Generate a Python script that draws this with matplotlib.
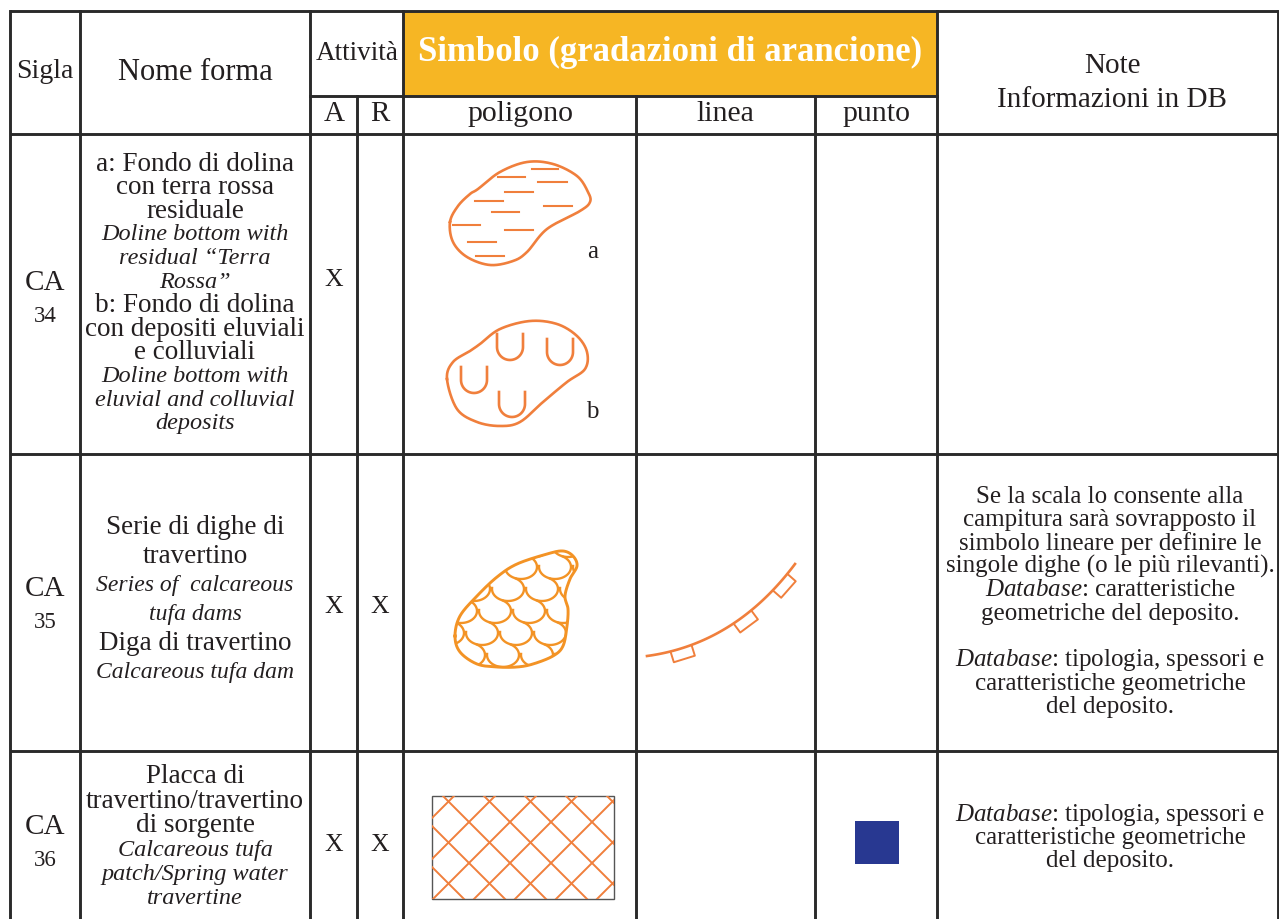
import matplotlib.pyplot as plt
import matplotlib.patches as mpatches
import numpy as np

plt.rcParams['font.family'] = ['Liberation Serif', 'DejaVu Serif']
plt.rcParams['mathtext.fontset'] = 'custom'
plt.rcParams['mathtext.rm'] = 'Liberation Serif'
plt.rcParams['mathtext.it'] = 'Liberation Serif:italic'

# ---- table content ----
header_cols = ['Sigla', 'Nome forma']
attivita = ['A', 'R']
simbolo_title = 'Simbolo (gradazioni di arancione)'
simbolo_cols = ['poligono', 'linea', 'punto']
note_title = ['Note', 'Informazioni in DB']

sigle = [('CA', '34'), ('CA', '35'), ('CA', '36')]
att_a = [True, True, True]
att_r = [False, True, True]

nome_34 = [('a: Fondo di dolina', 'n'), ('con terra rossa', 'n'), ('residuale', 'n'),
           ('Doline bottom with', 'i'), ('residual \u201cTerra', 'i'), ('Rossa\u201d', 'i'),
           ('b: Fondo di dolina', 'n'), ('con depositi eluviali', 'n'), ('e colluviali', 'n'),
           ('Doline bottom with', 'i'), ('eluvial and colluvial', 'i'), ('deposits', 'i')]
nome_35 = [('Serie di dighe di', 'n'), ('travertino', 'n'), ('Series of  calcareous', 'i'),
           ('tufa dams', 'i'), ('Diga di travertino', 'n'), ('Calcareous tufa dam', 'i')]
nome_36 = [('Placca di', 'n'), ('travertino/travertino', 'n'), ('di sorgente', 'n'),
           ('Calcareous tufa', 'i'), ('patch/Spring water', 'i'), ('travertine', 'i')]
nomi = [nome_34, nome_35, nome_36]

note_35 = ['Se la scala lo consente alla', 'campitura sar\u00e0 sovrapposto il',
           'simbolo lineare per definire le', 'singole dighe (o le pi\u00f9 rilevanti).',
           r'$\mathit{Database}$: caratteristiche', 'geometriche del deposito.', '',
           r'$\mathit{Database}$: tipologia, spessori e', 'caratteristiche geometriche',
           'del deposito.']
note_36 = [r'$\mathit{Database}$: tipologia, spessori e', 'caratteristiche geometriche',
           'del deposito.']
note = [[], note_35, note_36]

# symbol shapes (pixel coordinates of the source sheet)
blob_a = [(450, 223), (458, 207), (470, 195), (478, 190), (500, 173), (527, 163), (553, 165),
          (577, 177), (588, 193), (590, 203), (580, 212), (547, 230), (527, 253), (513, 262),
          (490, 266), (467, 258), (453, 243)]
dash_a = [(532, 558, 170), (498, 525, 178), (538, 567, 183), (505, 533, 193), (475, 503, 202),
          (544, 572, 207), (492, 519, 213), (453, 480, 226), (505, 533, 231), (468, 496, 243),
          (476, 504, 257)]
blob_b = [(447, 380), (453, 363), (470, 352), (480, 345), (500, 330), (530, 322), (557, 325),
          (577, 337), (587, 353), (585, 370), (567, 383), (543, 403), (520, 423), (500, 427),
          (477, 423), (457, 410)]
u_b = [(510, 335, 361), (560, 340, 366), (474, 368, 394), (512, 393, 418)]
blob_35 = [(455, 637), (460, 617), (477, 597), (497, 578), (517, 565), (547, 555), (563, 552),
           (573, 557), (577, 567), (570, 580), (565, 597), (568, 610), (567, 627), (563, 647),
           (553, 657), (533, 665), (517, 668), (497, 668), (477, 665), (460, 653)]
curve_35 = [(647, 657), (735, 645), (795, 565)]
tick_t = [0.2, 0.6, 0.88]
hatch_box = (432, 797, 614, 900)
point_box = (855, 822, 44, 43)

LINE = '#2a2a2a'
TXT = '#231f20'
ORANGE = '#f07f3c'
ORANGE2 = '#f39325'
HEAD = '#f6b624'
BLUE = '#283891'

fig = plt.figure(figsize=(12.79, 9.2), dpi=100)
ax = fig.add_axes([0, 0, 1, 1])
ax.set_xlim(0, 1279)
ax.set_ylim(920, 0)
ax.axis('off')

# grid
xl, xr = 10, 1278
ytop, ymid, yhead = 12, 97, 135
ax.add_patch(mpatches.Rectangle((403, ytop), 534, ymid - ytop, color=HEAD, lw=0))
lw = 2.1
for y in [ytop, yhead, 455, 752]:
    ax.plot([xl, xr], [y, y], color=LINE, lw=lw, solid_capstyle='butt')
ax.plot([310, 937], [ymid, ymid], color=LINE, lw=lw)
for x in [xl, 80, 310, 403, 937, xr]:
    ax.plot([x, x], [ytop, 925], color=LINE, lw=lw)
for x in [357, 636, 815]:
    ax.plot([x, x], [ymid, 925], color=LINE, lw=lw)

# header text
ax.text(45, 72, header_cols[0], ha='center', va='center', fontsize=20, color=TXT)
ax.text(195, 72, header_cols[1], ha='center', va='center', fontsize=22, color=TXT)
ax.text(357, 54, 'Attivit\u00e0', ha='center', va='center', fontsize=19.5, color=TXT)
ax.text(334, 114, attivita[0], ha='center', va='center', fontsize=21, color=TXT)
ax.text(380, 114, attivita[1], ha='center', va='center', fontsize=21, color=TXT)
ax.text(670, 52, simbolo_title, ha='center', va='center', fontsize=25, color='white', fontweight='bold')
for x, s in zip([520, 725, 876], simbolo_cols):
    ax.text(x, 114, s, ha='center', va='center', fontsize=21.5, color=TXT)
ax.text(1112, 66, note_title[0], ha='center', va='center', fontsize=21, color=TXT)
ax.text(1112, 100, note_title[1], ha='center', va='center', fontsize=21, color=TXT)


def block(x, yc, lines, step, size, isize):
    n = len(lines)
    for i, item in enumerate(lines):
        s, st = item if isinstance(item, tuple) else (item, 'n')
        y = yc + (i - (n - 1) / 2) * step
        ax.text(x, y, s, ha='center', va='center', fontsize=isize if st == 'i' else size,
                color=TXT, style='italic' if st == 'i' else 'normal')


row_c = [294, 600, 838]
nome_step = [23.6, 29, 24.4]
nome_size = [(19.5, 17.5), (19.5, 17), (19.5, 17.5)]
for k in range(3):
    yc = row_c[k]
    ax.text(45, yc - 11, sigle[k][0], ha='center', va='center', fontsize=21, color=TXT)
    ax.text(45, yc + 23, sigle[k][1], ha='center', va='center', fontsize=16.5, color=TXT)
    block(195, yc, nomi[k], nome_step[k], *nome_size[k])
    xy = yc - 14 if k == 0 else yc + 7
    if att_a[k]:
        ax.text(334, xy, 'X', ha='center', va='center', fontsize=18.5, color=TXT)
    if att_r[k]:
        ax.text(380, xy, 'X', ha='center', va='center', fontsize=18.5, color=TXT)
    if note[k]:
        block(1110, 602 if k == 1 else 838, note[k], 23.4, 18, 18)


def closed_spline(pts, n=24):
    P = np.array(pts, float)
    N = len(P)
    out = []
    t = np.linspace(0, 1, n, endpoint=False)[:, None]
    for i in range(N):
        p0, p1, p2, p3 = P[i - 1], P[i], P[(i + 1) % N], P[(i + 2) % N]
        out.append(0.5 * (2 * p1 + (-p0 + p2) * t + (2 * p0 - 5 * p1 + 4 * p2 - p3) * t ** 2
                          + (-p0 + 3 * p1 - 3 * p2 + p3) * t ** 3))
    out = np.vstack(out)
    return np.vstack([out, out[:1]])


# CA 34 a
sa = closed_spline(blob_a)
ax.plot(sa[:, 0], sa[:, 1], color=ORANGE, lw=1.9)
for x0, x1, y in dash_a:
    ax.plot([x0, x1], [y, y], color=ORANGE, lw=1.5)
ax.text(593, 252, 'a', ha='center', va='center', fontsize=18, color=TXT)

# CA 34 b
sb = closed_spline(blob_b)
ax.plot(sb[:, 0], sb[:, 1], color=ORANGE, lw=1.9)
for cx, yt, yb in u_b:
    r = 13
    th = np.linspace(np.pi, 0, 30)
    ux = np.concatenate([[cx - r], cx + r * np.cos(th), [cx + r]])
    uy = np.concatenate([[yt], yb - r + r * np.sin(th), [yt]])
    ax.plot(ux, uy, color=ORANGE, lw=1.9)
ax.text(592, 412, 'b', ha='center', va='center', fontsize=18, color=TXT)

# CA 35 scales
s35 = closed_spline(blob_35)
clip = mpatches.Polygon(s35, closed=True, transform=ax.transData, fill=False, lw=0)
ax.add_patch(clip)
ax.plot(s35[:, 0], s35[:, 1], color=ORANGE2, lw=2.1)
th = np.linspace(np.radians(185), np.radians(-60), 40)
for j in range(6):
    for i in range(6):
        cx = 432 + i * 34 + (j % 2) * 17 + j * 4
        cy = 546 + j * 22
        ln, = ax.plot(cx + 16 * np.cos(th), cy + 12 * np.sin(th), color=ORANGE2, lw=1.7)
        ln.set_clip_path(clip)

# CA 35 line symbol with ticks
P0, P1, P2 = [np.array(p, float) for p in curve_35]
tt = np.linspace(0, 1, 80)[:, None]
bez = (1 - tt) ** 2 * P0 + 2 * tt * (1 - tt) * P1 + tt ** 2 * P2
ax.plot(bez[:, 0], bez[:, 1], color=ORANGE, lw=1.9)
for t in tick_t:
    p = (1 - t) ** 2 * P0 + 2 * t * (1 - t) * P1 + t ** 2 * P2
    d = 2 * (1 - t) * (P1 - P0) + 2 * t * (P2 - P1)
    d = d / np.hypot(*d)
    nrm = np.array([-d[1], d[0]])
    a = p - 11 * d
    b = p + 11 * d
    c = b + 11 * nrm
    e = a + 11 * nrm
    q = np.array([a, e, c, b])
    ax.plot(q[:, 0], q[:, 1], color=ORANGE, lw=1.4)

# CA 36 cross hatch
hx0, hy0, hx1, hy1 = hatch_box
rect = mpatches.Rectangle((hx0, hy0), hx1 - hx0, hy1 - hy0, fill=False, ec='#555555', lw=1.0)
ax.add_patch(rect)
for k in range(-12, 14):
    c1 = 1292 + 41 * k
    c2 = -354 + 41 * k
    l1, = ax.plot([hx0 - 150, hx1 + 150], [c1 - hx0 + 150, c1 - hx1 - 150], color=ORANGE, lw=1.4)
    l2, = ax.plot([hx0 - 150, hx1 + 150], [hx0 - 150 - c2, hx1 + 150 - c2], color=ORANGE, lw=1.4)
    l1.set_clip_path(rect)
    l2.set_clip_path(rect)

# CA 36 point
ax.add_patch(mpatches.Rectangle((point_box[0], point_box[1]), point_box[2], point_box[3], color=BLUE, lw=0))

fig.savefig('out.png', dpi=100)
